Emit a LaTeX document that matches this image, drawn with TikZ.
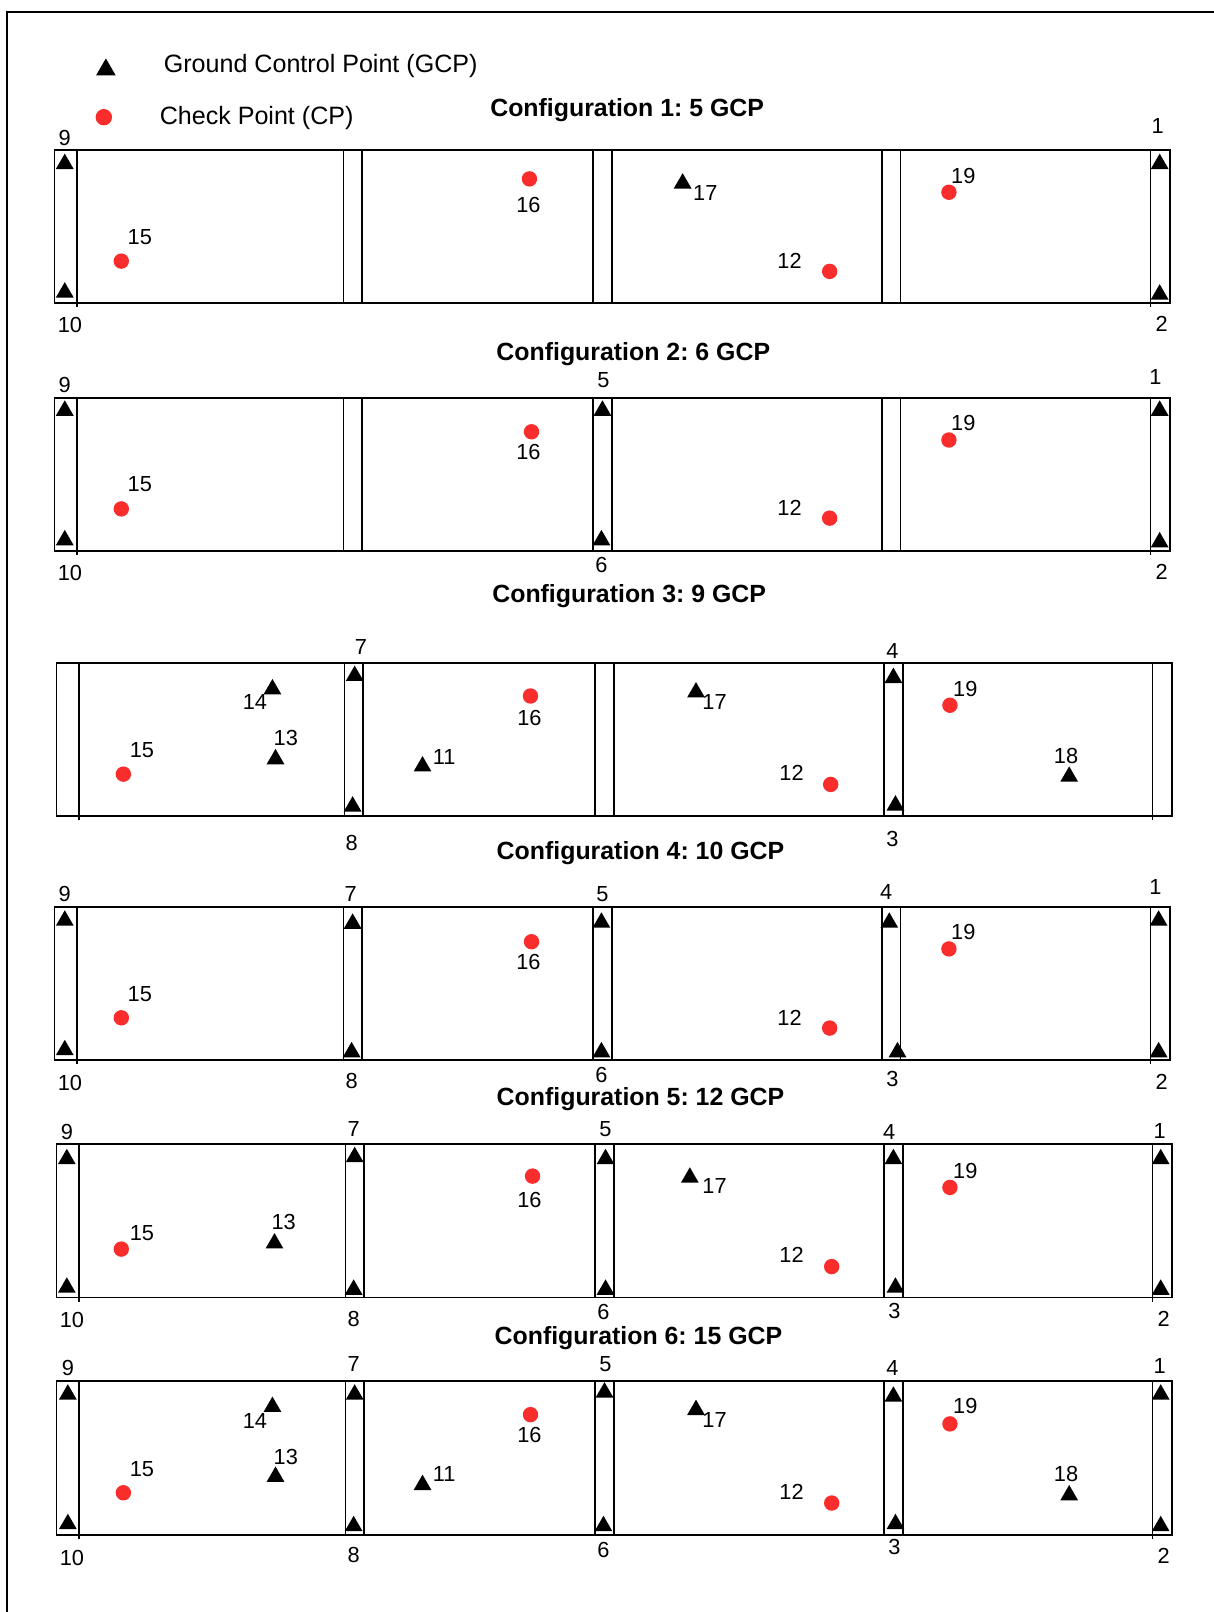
\documentclass[tikz,border=0pt]{standalone}
\usepackage{fontspec}
\setmainfont{Liberation Sans}
\usetikzlibrary{shapes.geometric}
\frenchspacing
\definecolor{cpred}{RGB}{250,45,45}
\tikzset{
  gcp/.style={regular polygon, regular polygon sides=3, fill=black, inner sep=0pt, outer sep=0pt, minimum size=10pt, yshift=-1.2pt},
  gcpleg/.style={regular polygon, regular polygon sides=3, fill=black, inner sep=0pt, outer sep=0pt, minimum size=11pt, yshift=-1.4pt},
  cp/.style={circle, fill=cpred, inner sep=0pt, outer sep=0pt, minimum size=7.5pt},
  lbl/.style={font=\fontsize{10.6}{12}\selectfont, inner sep=0pt},
  ttl/.style={font=\bfseries\fontsize{12.1}{14}\selectfont, inner sep=0pt},
  leg/.style={font=\fontsize{12.2}{14}\selectfont, inner sep=0pt, anchor=west},
  stripline/.style={line width=0.85pt},
  framel/.style={line width=1pt}
}
\newcommand\mystrip[7]{%
  \draw[stripline] (#3,#1) rectangle (#4,#2);
  \draw[stripline] (#5,#1) -- (#5,#2+4);
  \draw[stripline] (#6,#1) -- (#6,#2+4);
  \foreach \xx in {#7} \draw[stripline] (\xx,#1) -- (\xx,#2);
}
\begin{document}
\begin{tikzpicture}[x=0.5pt,y=-0.5pt]
\useasboundingbox (0,0) rectangle (1180,1568);
% frame
\draw[framel] (7,1570) -- (7,12) -- (1182,12);

% legend
\node[gcpleg] (legt) at (103,65) {};
\node[leg] (legtt) at (159,64) {Ground Control Point (GCP)};
\node[cp, minimum size=8pt] (legc) at (101,114) {};
\node[leg] (legct) at (155,115) {Check Point (CP)};

% ---------- Configuration 1 ----------
\node[ttl] (t1) at (610,107) {Configuration 1: 5 GCP};
\mystrip{146}{295}{53}{1138}{75}{1119}{334,352,577,595,858,876}
\node[gcp] (a9) at (63,157) {};
\node[gcp] (a10) at (63,282) {};
\node[lbl] (la9) at (63,134) {9};
\node[lbl] (la10) at (68,316) {10};
\node[cp] (a15) at (118,254) {};
\node[lbl] (la15) at (136,231) {15};
\node[cp] (a16) at (515,174) {};
\node[lbl] (la16) at (514,199) {16};
\node[gcp] (a17) at (664,176) {};
\node[lbl] (la17) at (686,188) {17};
\node[cp] (a12) at (807,264) {};
\node[lbl] (la12) at (768,254) {12};
\node[cp] (a19) at (923,187) {};
\node[lbl] (la19) at (937,171) {19};
\node[gcp] (a1) at (1128,157) {};
\node[gcp] (a2) at (1128,284) {};
\node[lbl] (la1) at (1126,123) {1};
\node[lbl] (la2) at (1130,315) {2};

% ---------- Configuration 2 ----------
\node[ttl] (t2) at (616,344) {Configuration 2: 6 GCP};
\mystrip{387}{536}{53}{1138}{75}{1119}{334,352,577,595,858,876}
\node[gcp] (b9) at (63,397) {};
\node[gcp] (b10) at (63,523) {};
\node[lbl] (lb9) at (63,374) {9};
\node[lbl] (lb10) at (68,557) {10};
\node[cp] (b15) at (118,495) {};
\node[lbl] (lb15) at (136,471) {15};
\node[cp] (b16) at (517,420) {};
\node[lbl] (lb16) at (514,440) {16};
\node[gcp] (b5) at (586,397) {};
\node[gcp] (b6) at (585,523) {};
\node[lbl] (lb5) at (587,370) {5};
\node[lbl] (lb6) at (585,550) {6};
\node[cp] (b12) at (807,504) {};
\node[lbl] (lb12) at (768,494) {12};
\node[cp] (b19) at (923,428) {};
\node[lbl] (lb19) at (937,411) {19};
\node[gcp] (b1) at (1128,397) {};
\node[gcp] (b2) at (1128,525) {};
\node[lbl] (lb1) at (1124,367) {1};
\node[lbl] (lb2) at (1130,556) {2};

% ---------- Configuration 3 ----------
\node[ttl] (t3) at (612,580) {Configuration 3: 9 GCP};
\mystrip{645}{794}{55}{1140}{77}{1121}{335,353,579,597,860,878}
\node[cp] (c15) at (120,753) {};
\node[lbl] (lc15) at (138,730) {15};
\node[gcp] (c14) at (265,668) {};
\node[lbl] (lc14) at (248,683) {14};
\node[gcp] (c13) at (268,736) {};
\node[lbl] (lc13) at (278,718) {13};
\node[gcp] (c7) at (345,655) {};
\node[gcp] (c8) at (343,782) {};
\node[lbl] (lc7) at (351,629) {7};
\node[lbl] (lc8) at (342,820) {8};
\node[gcp] (c11) at (411,743) {};
\node[lbl] (lc11) at (432,736) {11};
\node[cp] (c16) at (516,677) {};
\node[lbl] (lc16) at (515,698) {16};
\node[gcp] (c17) at (677,671) {};
\node[lbl] (lc17) at (695,683) {17};
\node[cp] (c12) at (808,763) {};
\node[lbl] (lc12) at (770,752) {12};
\node[gcp] (c4) at (869,657) {};
\node[gcp] (c3) at (871,781) {};
\node[lbl] (lc4) at (868,633) {4};
\node[lbl] (lc3) at (868,816) {3};
\node[cp] (c19) at (924,686) {};
\node[lbl] (lc19) at (939,670) {19};
\node[gcp] (c18) at (1040,753) {};
\node[lbl] (lc18) at (1037,735) {18};

% ---------- Configuration 4 ----------
\node[ttl] (t4) at (623,830) {Configuration 4: 10 GCP};
\mystrip{882}{1031}{53}{1138}{75}{1119}{334,352,577,595,858,876}
\node[gcp] (d9) at (63,893) {};
\node[gcp] (d10) at (63,1019) {};
\node[lbl] (ld9) at (63,870) {9};
\node[lbl] (ld10) at (68,1053) {10};
\node[cp] (d15) at (118,990) {};
\node[lbl] (ld15) at (136,967) {15};
\node[gcp] (d7) at (343,896) {};
\node[gcp] (d8) at (342,1021) {};
\node[lbl] (ld7) at (341,870) {7};
\node[lbl] (ld8) at (342,1051) {8};
\node[cp] (d16) at (517,916) {};
\node[lbl] (ld16) at (514,936) {16};
\node[gcp] (d5) at (585,895) {};
\node[gcp] (d6) at (585,1021) {};
\node[lbl] (ld5) at (586,870) {5};
\node[lbl] (ld6) at (585,1046) {6};
\node[cp] (d12) at (807,1000) {};
\node[lbl] (ld12) at (768,990) {12};
\node[gcp] (d4) at (865,895) {};
\node[gcp] (d3) at (873,1021) {};
\node[lbl] (ld4) at (862,868) {4};
\node[lbl] (ld3) at (868,1050) {3};
\node[cp] (d19) at (923,923) {};
\node[lbl] (ld19) at (937,907) {19};
\node[gcp] (d1) at (1127,893) {};
\node[gcp] (d2) at (1127,1021) {};
\node[lbl] (ld1) at (1124,863) {1};
\node[lbl] (ld2) at (1130,1052) {2};

% ---------- Configuration 5 ----------
\node[ttl] (t5) at (623,1069) {Configuration 5: 12 GCP};
\mystrip{1113}{1262}{55}{1140}{77}{1121}{336,354,579,597,860,878}
\node[gcp] (e9) at (65,1125) {};
\node[gcp] (e10) at (65,1250) {};
\node[lbl] (le9) at (65,1101) {9};
\node[lbl] (le10) at (70,1284) {10};
\node[cp] (e15) at (118,1215) {};
\node[lbl] (le15) at (138,1199) {15};
\node[gcp] (e13) at (267,1207) {};
\node[lbl] (le13) at (276,1189) {13};
\node[gcp] (e7) at (345,1123) {};
\node[gcp] (e8) at (344,1252) {};
\node[lbl] (le7) at (344,1098) {7};
\node[lbl] (le8) at (344,1283) {8};
\node[cp] (e16) at (518,1144) {};
\node[lbl] (le16) at (515,1167) {16};
\node[gcp] (e5) at (589,1125) {};
\node[gcp] (e6) at (589,1252) {};
\node[lbl] (le5) at (589,1098) {5};
\node[lbl] (le6) at (587,1276) {6};
\node[gcp] (e17) at (671,1143) {};
\node[lbl] (le17) at (695,1154) {17};
\node[cp] (e12) at (809,1232) {};
\node[lbl] (le12) at (770,1221) {12};
\node[gcp] (e4) at (869,1125) {};
\node[gcp] (e3) at (871,1250) {};
\node[lbl] (le4) at (865,1101) {4};
\node[lbl] (le3) at (870,1275) {3};
\node[cp] (e19) at (924,1155) {};
\node[lbl] (le19) at (939,1139) {19};
\node[gcp] (e1) at (1129,1125) {};
\node[gcp] (e2) at (1129,1252) {};
\node[lbl] (le1) at (1128,1100) {1};
\node[lbl] (le2) at (1132,1283) {2};

% ---------- Configuration 6 ----------
\node[ttl] (t6) at (621,1302) {Configuration 6: 15 GCP};
\mystrip{1343}{1493}{55}{1140}{77}{1121}{336,354,579,597,860,878}
\node[gcp] (f9) at (66,1354) {};
\node[gcp] (f10) at (66,1480) {};
\node[lbl] (lf9) at (66,1331) {9};
\node[lbl] (lf10) at (70,1515) {10};
\node[cp] (f15) at (120,1452) {};
\node[lbl] (lf15) at (138,1429) {15};
\node[gcp] (f14) at (265,1366) {};
\node[lbl] (lf14) at (248,1382) {14};
\node[gcp] (f13) at (268,1434) {};
\node[lbl] (lf13) at (278,1417) {13};
\node[gcp] (f7) at (345,1354) {};
\node[gcp] (f8) at (344,1482) {};
\node[lbl] (lf7) at (344,1327) {7};
\node[lbl] (lf8) at (344,1513) {8};
\node[gcp] (f11) at (411,1442) {};
\node[lbl] (lf11) at (432,1434) {11};
\node[cp] (f16) at (516,1376) {};
\node[lbl] (lf16) at (515,1396) {16};
\node[gcp] (f5) at (588,1352) {};
\node[gcp] (f6) at (587,1482) {};
\node[lbl] (lf5) at (589,1327) {5};
\node[lbl] (lf6) at (587,1508) {6};
\node[gcp] (f17) at (677,1369) {};
\node[lbl] (lf17) at (695,1381) {17};
\node[cp] (f12) at (809,1462) {};
\node[lbl] (lf12) at (770,1451) {12};
\node[gcp] (f4) at (869,1356) {};
\node[gcp] (f3) at (871,1480) {};
\node[lbl] (lf4) at (868,1331) {4};
\node[lbl] (lf3) at (870,1505) {3};
\node[cp] (f19) at (924,1385) {};
\node[lbl] (lf19) at (939,1368) {19};
\node[gcp] (f18) at (1040,1452) {};
\node[lbl] (lf18) at (1037,1434) {18};
\node[gcp] (f1) at (1129,1354) {};
\node[gcp] (f2) at (1129,1482) {};
\node[lbl] (lf1) at (1128,1329) {1};
\node[lbl] (lf2) at (1132,1513) {2};
\end{tikzpicture}
\end{document}
